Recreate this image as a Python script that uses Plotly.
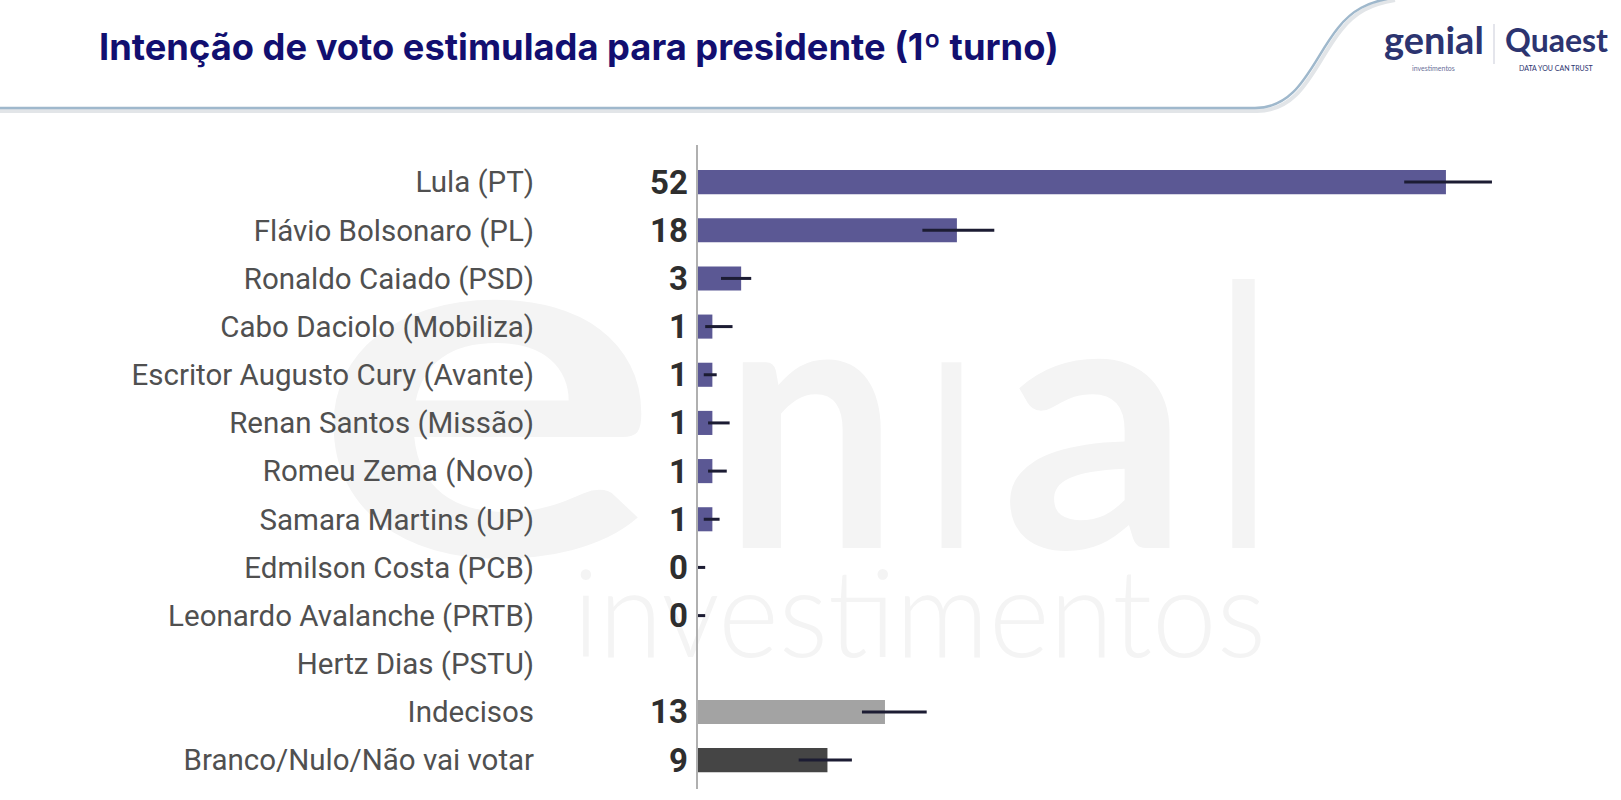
import base64
import plotly.graph_objects as go

categories = ["Lula (PT)", "Flávio Bolsonaro (PL)", "Ronaldo Caiado (PSD)", "Cabo Daciolo (Mobiliza)",
              "Escritor Augusto Cury (Avante)", "Renan Santos (Missão)", "Romeu Zema (Novo)",
              "Samara Martins (UP)", "Edmilson Costa (PCB)", "Leonardo Avalanche (PRTB)",
              "Hertz Dias (PSTU)", "Indecisos", "Branco/Nulo/Não vai votar"]
values = [52, 18, 3, 1, 1, 1, 1, 1, 0, 0, None, 13, 9]
value_labels = ["52", "18", "3", "1", "1", "1", "1", "1", "0", "0", "", "13", "9"]
err_minus = [2.9, 2.4, 1.4, 0.5, 0.6, 0.3, 0.3, 0.6, 0, 0, 0, 1.6, 2.0]
err_plus = [3.2, 2.6, 0.7, 1.4, 0.3, 1.2, 1.0, 0.5, 0.5, 0.5, 0, 2.9, 1.7]
bar_colors = ["#5b5894"] * 11 + ["#a3a3a3", "#454545"]

title_text = "Intenção de voto estimulada para presidente (1º turno)"

W, H = 1621, 800
L, R, T, B = 698, 60, 145, 11
pw, ph = W - L - R, H - T - B


def px(x):
    return (x - L) / pw


def py(y):
    return (H - B - y) / ph


# faint background watermark (logo artwork), drawn as an image below everything
wm = "#f4f4f4"
svg = f"""<svg xmlns="http://www.w3.org/2000/svg" width="{W}" height="{H}" viewBox="0 0 {W} {H}">
<g fill="{wm}" font-family="Lato" font-weight="700">
<text x="312" y="555" font-size="490" textLength="350" lengthAdjust="spacingAndGlyphs">e</text>
<text x="724" y="548" font-size="362" textLength="174" lengthAdjust="spacingAndGlyphs">n</text>
<text x="931" y="548" font-size="362" textLength="41" lengthAdjust="spacingAndGlyphs">ı</text>
<text x="1001" y="548" font-size="362" textLength="189" lengthAdjust="spacingAndGlyphs">a</text>
<text x="1221" y="548" font-size="362" textLength="45" lengthAdjust="spacingAndGlyphs">l</text>
</g>
<text x="573" y="657" fill="{wm}" font-family="Lato" font-weight="300" font-size="122" textLength="693" lengthAdjust="spacingAndGlyphs">investimentos</text>
</svg>"""
svg_uri = "data:image/svg+xml;base64," + base64.b64encode(svg.encode("utf-8")).decode("ascii")

fig = go.Figure()
fig.add_trace(go.Bar(
    y=categories, x=values, orientation="h",
    marker=dict(color=bar_colors, line=dict(width=0)),
    width=0.5,
    error_x=dict(type="data", symmetric=False, array=err_plus, arrayminus=err_minus,
                 color="#1c1c33", thickness=3, width=0),
    hoverinfo="x+y", showlegend=False,
))

annotations = []
for c, lab in zip(categories, value_labels):
    if lab:
        annotations.append(dict(x=0, y=c, xref="x", yref="y", text=lab, showarrow=False,
                                xanchor="right", yanchor="middle", xshift=-8,
                                font=dict(family="Roboto", size=33, color="#2e2e2e", weight="bold")))

# title
annotations.append(dict(x=px(97), y=py(47), xref="paper", yref="paper", text="<b>" + title_text + "</b>",
                        showarrow=False, xanchor="left", yanchor="middle",
                        font=dict(family="Inter", size=36.3, color="#120f70")))
# logos
annotations.append(dict(x=px(1382), y=py(39), xref="paper", yref="paper", text="<b>genial</b>",
                        showarrow=False, xanchor="left", yanchor="middle",
                        font=dict(family="Lato", size=38, color="#2c3470")))
annotations.append(dict(x=px(1433), y=py(68), xref="paper", yref="paper", text="investimentos",
                        showarrow=False, xanchor="center", yanchor="middle",
                        font=dict(family="Lato", size=7, color="#6a6f99")))
annotations.append(dict(x=px(1503), y=py(40), xref="paper", yref="paper", text="<b>Quaest</b>",
                        showarrow=False, xanchor="left", yanchor="middle",
                        font=dict(family="Lato", size=32, color="#2c3470")))
annotations.append(dict(x=px(1556), y=py(68), xref="paper", yref="paper", text="DATA YOU CAN TRUST",
                        showarrow=False, xanchor="center", yanchor="middle",
                        font=dict(family="Lato", size=7, color="#2c3470")))

header_path = (f"M {px(0)},{py(108)} L {px(1255)},{py(108)} C {px(1300)},{py(108)} {px(1312)},{py(60)} {px(1338)},{py(28)} "
               f"C {px(1352)},{py(10)} {px(1368)},{py(2)} {px(1392)},{py(-2)}")
shadow_path = (f"M {px(0)},{py(111)} L {px(1257)},{py(111)} C {px(1303)},{py(111)} {px(1315)},{py(62)} {px(1341)},{py(30)} "
               f"C {px(1355)},{py(12)} {px(1371)},{py(4)} {px(1395)},{py(0)}")
shapes = [
    dict(type="path", xref="paper", yref="paper", layer="below", path=shadow_path,
         line=dict(color="#e2e5e8", width=4)),
    dict(type="path", xref="paper", yref="paper", layer="below", path=header_path,
         line=dict(color="#9fb8cc", width=2.5)),
    dict(type="line", xref="paper", yref="paper", x0=px(1494), x1=px(1494), y0=py(24), y1=py(64),
         line=dict(color="#c9cbd8", width=1)),
]

fig.update_layout(
    width=W, height=H,
    margin=dict(l=L, r=R, t=T, b=B, pad=0),
    paper_bgcolor="white", plot_bgcolor="rgba(0,0,0,0)",
    bargap=0.5,
    xaxis=dict(range=[0, 60], visible=False, fixedrange=True),
    yaxis=dict(type="category", categoryorder="array", categoryarray=categories,
               range=[12.6, -0.77], showline=True, linecolor="#b0b0b0", linewidth=2,
               showgrid=False, zeroline=False, ticks="", ticklabelstandoff=156,
               tickfont=dict(family="Roboto", size=29.5, color="#505050")),
    images=[dict(source=svg_uri, xref="paper", yref="paper", x=px(0), y=py(0),
                 sizex=W / pw, sizey=H / ph, xanchor="left", yanchor="top",
                 sizing="stretch", layer="below")],
    annotations=annotations, shapes=shapes,
)

fig.write_html("out.html")
